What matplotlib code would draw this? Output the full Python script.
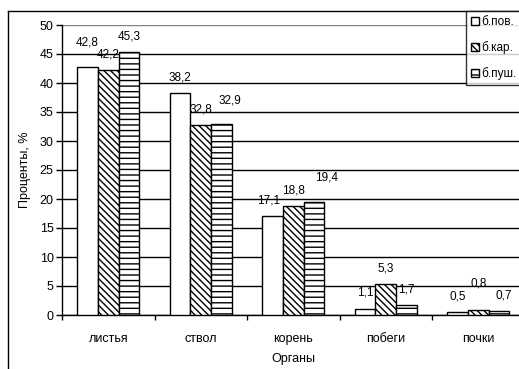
import matplotlib
matplotlib.use("Agg")
import matplotlib.pyplot as plt
from matplotlib.lines import Line2D
import numpy as np

plt.rcParams['font.family'] = ['Liberation Sans', 'DejaVu Sans']
plt.rcParams['hatch.linewidth'] = 1.0

categories = ["листья", "ствол", "корень", "побеги", "почки"]
series_names = ["б.пов.", "б.кар.", "б.пуш."]
values_pov = [42.8, 38.2, 17.1, 1.1, 0.5]
values_kar = [42.2, 32.8, 18.8, 5.3, 0.8]
values_push = [45.3, 32.9, 19.4, 1.7, 0.7]
y_ticks = [0, 5, 10, 15, 20, 25, 30, 35, 40, 45, 50]

series_values = [values_pov, values_kar, values_push]
hatches = ['', '\\\\\\\\\\', '---']

# label nudges (points) for labels moved apart to avoid overlapping
label_nudge = {
    (0, 0): (0, 6.5),
    (2, 1): (6, 6),
    (0, 2): (-3, 0),
    (2, 2): (9, 7),
    (1, 4): (0, 8),
    (2, 4): (3.5, 0),
}

W, H = 519, 369
fig = plt.figure(figsize=(W / 100, H / 100), dpi=100)

# axes area in pixel units: x 62..524.5, y 25..315
ax_left, ax_right = 62, 524.5
ax_top, ax_bot = 25, 315
ax = fig.add_axes([ax_left / W, 1 - ax_bot / H,
                   (ax_right - ax_left) / W, (ax_bot - ax_top) / H])

n = len(categories)
x = np.arange(n)
bw = 0.224
for i, vals in enumerate(series_values):
    pos = x + (i - 1) * bw
    ax.bar(pos, vals, width=bw, color='white', edgecolor='black',
           linewidth=1.0, hatch=hatches[i], zorder=3, label=series_names[i])
    for j, v in enumerate(vals):
        dx, dy = label_nudge.get((i, j), (0, 0))
        ax.annotate(f"{v:.1f}".replace('.', ','), xy=(pos[j], v),
                    xytext=(dx, 7 + dy), textcoords='offset points',
                    ha='center', va='bottom', fontsize=8.5, zorder=4)

ax.set_xlim(-0.5, n - 0.5)
ax.set_ylim(0, 50)
ax.set_yticks(y_ticks)
ax.set_yticklabels([str(t) for t in y_ticks], fontsize=9)
ax.yaxis.grid(True, color='black', linewidth=1.0, zorder=0)
ax.get_ygridlines()[-1].set_color('#808080')
ax.set_axisbelow(True)

ax.set_xticks(x)
ax.set_xticklabels(categories, fontsize=9)
ax.set_xticks(np.arange(n + 1) - 0.5, minor=True)
ax.tick_params(axis='x', which='major', length=0, pad=13)
ax.tick_params(axis='x', which='minor', length=3.5, width=1, direction='out')
ax.tick_params(axis='y', length=4, width=1, direction='out', pad=2)

for s in ['top', 'right']:
    ax.spines[s].set_visible(False)
for s in ['left', 'bottom']:
    ax.spines[s].set_linewidth(1.0)
    ax.spines[s].set_color('black')

ax.set_xlabel("Органы", fontsize=9, labelpad=6)
ax.set_ylabel("Проценты, %", fontsize=9, labelpad=6)

# outer chart border (top and left visible)
fig.add_artist(Line2D([8 / W, 1.0], [1 - 11 / H, 1 - 11 / H],
                      transform=fig.transFigure, color='black', linewidth=1.0))
fig.add_artist(Line2D([8 / W, 8 / W], [1 - 11 / H, 0.0],
                      transform=fig.transFigure, color='black', linewidth=1.0))

leg = fig.legend(loc='upper left', bbox_to_anchor=(466 / W, 1 - 11 / H),
                 fontsize=8.5, frameon=True, fancybox=False, borderpad=0.45,
                 handlelength=0.65, handleheight=0.65, handletextpad=0.15,
                 labelspacing=1.1, borderaxespad=0)
leg.get_frame().set_edgecolor('black')
leg.get_frame().set_linewidth(1.0)

fig.savefig("out.png", dpi=100)
